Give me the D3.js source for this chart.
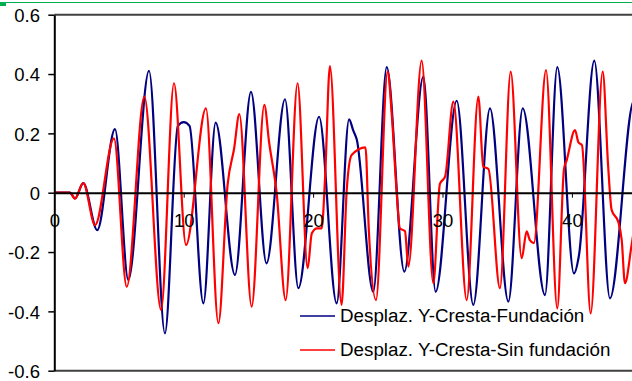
<!DOCTYPE html>
<html>
<head>
<meta charset="utf-8">
<script src="https://cdn.jsdelivr.net/npm/d3@7"></script>
<style>
  html, body { margin: 0; padding: 0; background: #fff; }
  svg { display: block; }
  text { font-family: "Liberation Sans", Arial, sans-serif; }
</style>
</head>
<body>
<svg id="chart" width="632" height="381"></svg>
<script>
// ---- Data ----
const xTicks = [0, 10, 20, 30, 40];
const yTicks = [-0.6, -0.4, -0.2, 0, 0.2, 0.4, 0.6];
const seriesNames = ["Desplaz. Y-Cresta-Fundación", "Desplaz. Y-Cresta-Sin fundación"];

const tFund = [0, 1.2, 1.6, 2.24, 3.32, 4.69, 5.72, 7.32, 8.55, 9.55, 10.0, 10.45, 11.52, 12.47, 13.96,
  15.2, 16.4, 17.83, 18.86, 20.46, 21.82, 22.78, 23.1, 23.37, 24.65, 25.69, 27.05, 28.52, 29.47,
  31.1, 32.38, 33.67, 35.09, 36.2, 37.92, 38.87, 40.16, 40.55, 41.73, 42.94, 44.8, 45.5];
const vFund = [0, 0, -0.019, 0.032, -0.126, 0.214, -0.294, 0.411, -0.474, 0.225, 0.238, 0.225, -0.373, 0.236, -0.277,
  0.34, -0.238, 0.315, -0.322, 0.256, -0.373, 0.247, 0.21, 0.18, -0.334, 0.423, -0.266, 0.391, -0.334,
  0.31, -0.378, 0.284, -0.367, 0.284, -0.345, 0.423, -0.272, -0.21, 0.445, -0.356, 0.31, 0.25];

const tSin = [0, 1.2, 1.6, 2.24, 3.15, 4.61, 5.6, 6.96, 8.25, 9.25, 10.18, 11.72, 12.68, 13.4, 13.9, 14.3,
  15.25, 16.23, 16.6, 17.18, 17.88, 18.8, 19.58, 19.9, 20.3, 20.66, 20.92, 21.3, 22.2, 22.6, 22.98, 24.05, 24.3, 24.86,
  25.76, 26.07, 26.46, 26.7, 27.1, 27.36, 28.39, 29.29, 29.8, 30.2, 30.84, 31.87, 32.77, 33.15, 33.55, 34.44,
  35.27, 36.12, 36.5, 36.75, 37.06, 38.0, 38.87, 39.39, 39.6, 40.24, 40.5, 40.78, 41.45, 42.38, 42.8, 43.07,
  43.6, 43.85, 44.1, 44.6, 45.2];
const vSin = [0, 0, -0.02, 0.032, -0.109, 0.183, -0.317, 0.324, -0.395, 0.369, -0.176, 0.284, -0.44, 0.03, 0.15, 0.265,
  -0.384, 0.296, 0.17, 0.0, -0.362, 0.369, -0.255, -0.137, -0.12, -0.12, 0.044, 0.427, -0.378, 0.01, 0.127, 0.153, -0.12, -0.362,
  0.408, 0.27, 0.0, -0.12, -0.13, -0.249, 0.445, -0.305, 0.03, 0.054, 0.307, -0.362, 0.324, 0.088, 0.08, -0.322,
  0.408, -0.221, -0.13, -0.16, -0.17, 0.413, -0.39, 0.08, 0.11, 0.211, 0.17, 0.16, -0.407, 0.408, 0.09, -0.058,
  -0.1, -0.16, -0.305, -0.18, 0.0];

const colors = ["#000080", "#FF0000"];

// ---- Drawing ----
const svg = d3.select("#chart");
const W = 632, H = 381;
const plotLeft = 54.3, plotTop = 14.7, plotBottom = 370.7;

const x = d3.scaleLinear().domain([0, 45]).range([plotLeft, plotLeft + 45 * 12.94]);
const y = d3.scaleLinear().domain([-0.6, 0.6]).range([plotBottom, plotTop]);

// green line at the top
svg.append("line").attr("x1", 0).attr("x2", W).attr("y1", 2.5).attr("y2", 2.5)
  .attr("stroke", "#00B050").attr("stroke-width", 1);
svg.append("rect").attr("x", 0).attr("y", 2).attr("width", 6).attr("height", 4).attr("fill", "#00B050");

// plot frame top / bottom
svg.append("line").attr("x1", plotLeft).attr("x2", W).attr("y1", plotTop).attr("y2", plotTop)
  .attr("stroke", "#404040").attr("stroke-width", 2);
svg.append("line").attr("x1", plotLeft).attr("x2", W).attr("y1", plotBottom).attr("y2", plotBottom)
  .attr("stroke", "#404040").attr("stroke-width", 2);

svg.append("clipPath").attr("id", "clip").append("rect")
  .attr("x", plotLeft).attr("y", plotTop).attr("width", W - plotLeft).attr("height", plotBottom - plotTop);

// series
const fundData = tFund.map((t, i) => ({ t, v: vFund[i] }));
const sinData = tSin.map((t, i) => ({ t, v: vSin[i] }));
const line = d3.line().x(d => x(d.t)).y(d => y(d.v)).curve(d3.curveMonotoneX);

const g = svg.append("g").attr("clip-path", "url(#clip)");
[fundData, sinData].forEach((data, i) => {
  g.append("path").datum(data).attr("d", line)
    .attr("fill", "none").attr("stroke", colors[i]).attr("stroke-width", 2.2)
    .attr("stroke-linejoin", "round");
});

// x axis at y = 0
const xAxis = d3.axisBottom(x).tickValues(xTicks).tickFormat(d3.format("d"))
  .tickSize(5).tickSizeOuter(0).tickPadding(16.5);
const gx = svg.append("g").attr("transform", `translate(0,${y(0)})`).call(xAxis);
gx.select(".domain").attr("stroke", "#000").attr("stroke-width", 2);
gx.selectAll(".tick line").attr("stroke", "#000").attr("stroke-width", 1);
gx.selectAll(".tick text").attr("font-size", 18.5).attr("fill", "#000")
  .attr("font-family", "'Liberation Sans', Arial, sans-serif");
gx.selectAll(".tick").filter(d => d === 0).select("line").remove();

// y axis
const fmtY = d => d === 0 ? "0" : d3.format(".1f")(d).replace("\u2212", "-");
const yAxis = d3.axisLeft(y).tickValues(yTicks).tickFormat(fmtY)
  .tickSize(6).tickSizeOuter(0).tickPadding(8.3);
const gy = svg.append("g").attr("transform", `translate(${plotLeft},0)`).call(yAxis);
gy.select(".domain").attr("stroke", "#000").attr("stroke-width", 2);
gy.selectAll(".tick line").attr("stroke", "#000").attr("stroke-width", 1.5);
gy.selectAll(".tick text").attr("font-size", 18.5).attr("fill", "#000").attr("dy", "0.36em")
  .attr("font-family", "'Liberation Sans', Arial, sans-serif");

// legend
const legend = svg.append("g");
[0, 1].forEach(i => {
  const ly = 316 + i * 34;
  legend.append("line").attr("x1", 300).attr("x2", 335).attr("y1", ly).attr("y2", ly)
    .attr("stroke", colors[i]).attr("stroke-width", 1.5);
  legend.append("text").attr("x", 340).attr("y", ly + 5.8).attr("font-size", 18.8).attr("fill", "#000")
    .text(seriesNames[i]);
});
</script>
</body>
</html>
